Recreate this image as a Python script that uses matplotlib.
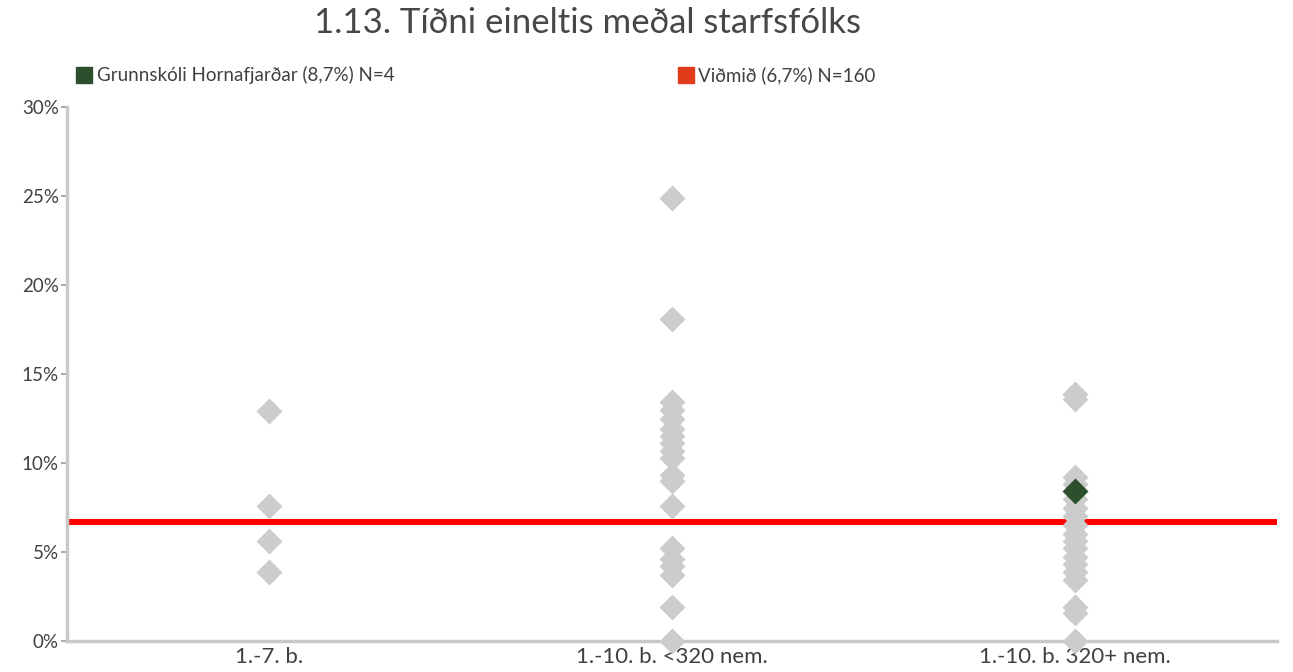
import matplotlib.pyplot as plt
from matplotlib.lines import Line2D
from matplotlib.ticker import FuncFormatter

plt.rcParams['font.family'] = ['Lato', 'DejaVu Sans']

categories = ["1.-7. b.", "1.-10. b. <320 nem.", "1.-10. b. 320+ nem."]

# tíðni (%) fyrir hvern skóla í hverjum flokki
grp_small = [12.9, 7.6, 5.6, 3.9]
grp_mid = [24.9, 18.1, 13.4, 13.0, 12.5, 11.9, 11.5, 11.1, 10.7, 10.3,
           9.3, 9.0, 7.6, 5.2, 4.6, 4.2, 3.7, 1.9, 0.0]
grp_large = [13.9, 13.6, 9.2, 8.8, 8.0, 7.5, 7.0, 6.5, 6.0, 5.6, 5.2,
             4.7, 4.3, 3.9, 3.4, 1.9, 1.6, 0.0]
groups = [grp_small, grp_mid, grp_large]

school_cat = 2
school_value = 8.4
benchmark = 6.7

school_label = "Grunnskóli Hornafjarðar (8,7%) N=4"
bench_label = "Viðmið (6,7%) N=160"
title = "1.13. Tíðni eineltis meðal starfsfólks"

grey = '#cccccc'
green = '#2d4f2d'
red = '#ff0000'
txt = '#404040'

fig = plt.figure(figsize=(12.93, 6.72), dpi=100)
ax = fig.add_axes([0.0518, 0.0461, 0.9358, 0.7947])

ax.axhline(benchmark, color=red, lw=4.3, zorder=2)

for i, vals in enumerate(groups):
    ax.scatter([i] * len(vals), vals, marker='D', s=175, color=grey,
               linewidths=0, zorder=3, clip_on=False)
ax.scatter([school_cat], [school_value], marker='D', s=175, color=green,
           linewidths=0, zorder=4, clip_on=False)

ax.set_xlim(-0.5, 2.5)
ax.set_ylim(0, 30)
ax.set_yticks(range(0, 31, 5))
ax.yaxis.set_major_formatter(FuncFormatter(lambda v, p: f"{v:.0f}%"))
ax.set_xticks(range(len(categories)))
ax.set_xticklabels(categories)

ax.tick_params(axis='y', colors='#999999', labelcolor=txt, labelsize=13.5,
               length=4, width=1.2, pad=2)
ax.tick_params(axis='x', length=0, labelcolor=txt, labelsize=16, pad=4)

for s in ['top', 'right']:
    ax.spines[s].set_visible(False)
for s in ['left', 'bottom']:
    ax.spines[s].set_color('#c8c8c8')
    ax.spines[s].set_linewidth(2.5)

fig.text(0.454, 0.966, title, ha='center', va='center', fontsize=25,
         color='#474747')

h1 = Line2D([], [], marker='s', ls='', color=green, markersize=11)
h2 = Line2D([], [], marker='s', ls='', color='#e03c1c', markersize=11)
fig.legend([h1], [school_label], loc='center left',
           bbox_to_anchor=(0.045, 0.888), frameon=False, fontsize=13.5,
           handletextpad=0.15, handlelength=1.0, labelcolor=txt)
fig.legend([h2], [bench_label], loc='center left',
           bbox_to_anchor=(0.510, 0.888), frameon=False, fontsize=13.5,
           handletextpad=0.15, handlelength=1.0, labelcolor=txt)

fig.savefig('out.png', dpi=100)
